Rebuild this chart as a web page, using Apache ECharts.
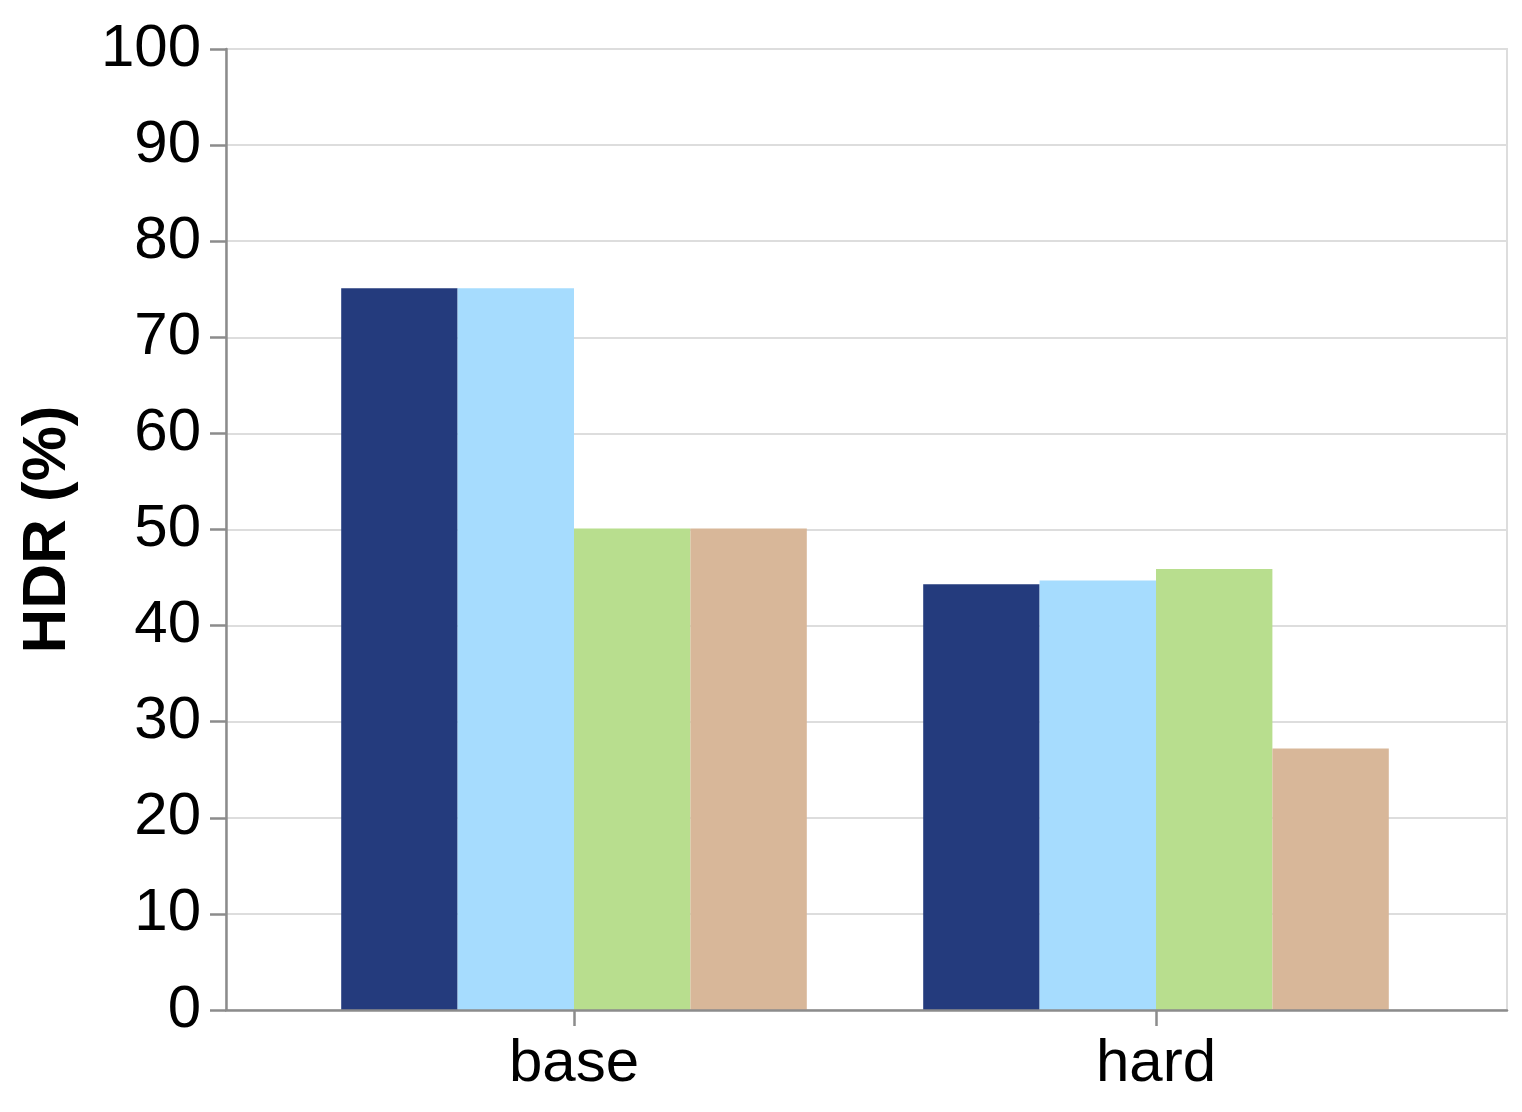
<!DOCTYPE html>
<html>
<head>
<meta charset="utf-8">
<script src="https://cdn.jsdelivr.net/npm/echarts@6/dist/echarts.min.js"></script>
<style>
html,body{margin:0;padding:0;background:#fff;}
#chart{width:1522px;height:1112px;}
</style>
</head>
<body>
<div id="chart"></div>
<script>
var categories = ['base', 'hard'];
var seriesNames = ['S1', 'S2', 'S3', 'S4'];
var s1 = [75.1, 44.3];
var s2 = [75.1, 44.7];
var s3 = [50.1, 45.9];
var s4 = [50.1, 27.2];
var yTicks = [0, 10, 20, 30, 40, 50, 60, 70, 80, 90, 100];
var yTitle = 'HDR (%)';

var colors = ['#243B7D', '#A6DCFE', '#B8DE8E', '#D8B799'];
var font = 'Liberation Sans, Arial, Helvetica, sans-serif';
var axisGray = '#8C8C8C';
var gridGray = '#DDDDDD';

var chart = echarts.init(document.getElementById('chart'), null, {renderer: 'canvas'});
var values = [s1, s2, s3, s4];
chart.setOption({
  animation: false,
  backgroundColor: '#fff',
  grid: [
    {left: 226, right: 15, top: 49, bottom: 102, show: true, borderColor: gridGray, borderWidth: 2, backgroundColor: 'transparent'},
    {left: 283, right: 75, top: 49, bottom: 102}
  ],
  xAxis: [
    {gridIndex: 0, type: 'category', data: [''], z: 5,
     axisLine: {show: true, lineStyle: {color: axisGray, width: 2.5}},
     axisTick: {show: false}, axisLabel: {show: false}, splitLine: {show: false}},
    {gridIndex: 1, type: 'category', data: categories, z: 5,
     axisLine: {show: false},
     axisTick: {show: true, alignWithLabel: true, length: 16, lineStyle: {color: axisGray, width: 2.5}},
     axisLabel: {fontSize: 60, fontFamily: font, color: '#000', margin: 24},
     splitLine: {show: false}}
  ],
  yAxis: [
    {gridIndex: 0, type: 'value', min: yTicks[0], max: yTicks[yTicks.length - 1], interval: yTicks[1] - yTicks[0],
     name: yTitle, nameLocation: 'middle', nameGap: 147, nameRotate: 90,
     nameTextStyle: {fontSize: 62, fontWeight: 'bold', fontFamily: font, color: '#000'},
     axisLine: {show: true, lineStyle: {color: axisGray, width: 2.5}},
     axisTick: {show: true, length: 16, lineStyle: {color: axisGray, width: 2.5}},
     axisLabel: {fontSize: 60, fontFamily: font, color: '#000', margin: 25},
     splitLine: {show: true, lineStyle: {color: gridGray, width: 2}}},
    {gridIndex: 1, type: 'value', min: yTicks[0], max: yTicks[yTicks.length - 1], show: false,
     splitLine: {show: false}}
  ],
  series: values.map(function (v, i) {
    return {
      name: seriesNames[i], type: 'bar', xAxisIndex: 1, yAxisIndex: 1,
      data: v, barGap: '0%', barCategoryGap: '20%',
      itemStyle: {color: colors[i]}
    };
  })
});
</script>
</body>
</html>
